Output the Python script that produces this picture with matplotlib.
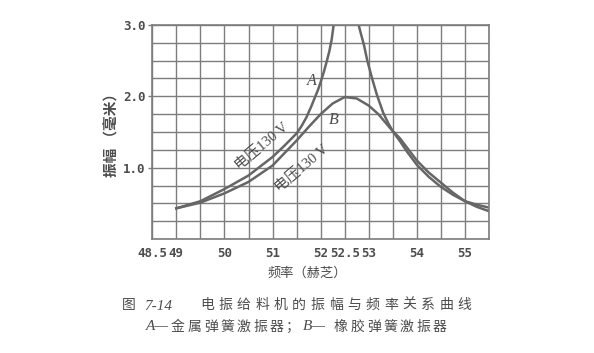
import numpy as np
import matplotlib
matplotlib.use("Agg")
import matplotlib.pyplot as plt

# curve A (metal spring) - two branches, goes off the top near resonance
freq_a_left = [49.0, 49.5, 50.0, 50.5, 51.0, 51.25, 51.5, 51.6, 51.7, 51.8, 51.89, 51.95,
               52.0, 52.07, 52.13, 52.18, 52.23, 52.27]
amp_a_left = [0.43, 0.53, 0.70, 0.89, 1.15, 1.31, 1.48, 1.58, 1.70, 1.85, 2.0, 2.1,
              2.2, 2.35, 2.5, 2.63, 2.8, 3.0]
freq_a_right = [52.79, 52.84, 52.9, 52.97, 53.07, 53.17, 53.3, 53.4, 53.5, 53.65, 53.8,
                54.0, 54.25, 54.5, 54.75, 55.0, 55.25, 55.5]
amp_a_right = [3.0, 2.87, 2.72, 2.5, 2.25, 2.02, 1.77, 1.63, 1.51, 1.37, 1.22,
               1.04, 0.87, 0.73, 0.62, 0.53, 0.48, 0.44]

# curve B (rubber spring)
freq_b = [49.0, 49.5, 50.0, 50.5, 51.0, 51.5, 51.75, 52.0, 52.25, 52.5, 52.75, 53.0, 53.2,
          53.45, 53.65, 54.0, 54.25, 54.5, 54.75, 55.0, 55.25, 55.5]
amp_b = [0.43, 0.51, 0.64, 0.80, 1.03, 1.38, 1.57, 1.75, 1.90, 1.99, 1.97, 1.87, 1.75,
         1.55, 1.41, 1.10, 0.93, 0.79, 0.65, 0.53, 0.45, 0.39]

x_ticks = [48.5, 49, 50, 51, 52, 52.5, 53, 54, 55]
x_labels = ["48.5", "49", "50", "51", "52", "52.5", "53", "54", "55"]
y_ticks = [1.0, 2.0, 3.0]
y_labels = ["1.0", "2.0", "3.0"]

line_c = "#666666"
grid_c = "#7d7d7d"
text_c = "#4d4d4d"
cjk = ["Noto Sans CJK SC", "DejaVu Sans"]
serif = ["Liberation Serif", "Noto Sans CJK SC"]

fig = plt.figure(figsize=(5.94, 3.53), dpi=100)
ax = fig.add_axes([152.3 / 594, 1 - 239 / 353, (489 - 152.3) / 594, (239 - 25) / 353])

ax.set_xlim(48.5, 55.5)
ax.set_ylim(0, 3.0)
ax.set_xticks(np.arange(48.5, 55.51, 0.5), minor=True)
ax.set_yticks(np.arange(0, 3.01, 0.25), minor=True)
ax.set_xticks(x_ticks)
ax.set_xticklabels(x_labels)
ax.set_yticks(y_ticks)
ax.set_yticklabels(y_labels)
ax.grid(which="both", color=grid_c, lw=1.0)
ax.tick_params(which="minor", length=0)
ax.tick_params(axis="x", which="major", length=0, pad=6)
ax.tick_params(axis="y", which="major", length=3, width=1, color=grid_c, pad=2)
for lab in ax.get_xticklabels() + ax.get_yticklabels():
    lab.set_family("DejaVu Sans Mono")
    lab.set_weight("bold")
    lab.set_fontsize(9)
    lab.set_color(text_c)
for s in ax.spines.values():
    s.set_color(grid_c)
    s.set_linewidth(1.2)

ax.plot(freq_a_left, amp_a_left, color=line_c, lw=1.8)
ax.plot(freq_a_right, amp_a_right, color=line_c, lw=1.8)
ax.plot(freq_b, amp_b, color=line_c, lw=1.8)

ax.text(51.82, 2.22, "A", family="Liberation Serif", style="italic", fontsize=11.5,
        color=text_c, ha="center", va="center")
ax.text(52.27, 1.67, "B", family="Liberation Serif", style="italic", fontsize=11.5,
        color=text_c, ha="center", va="center")
ax.text(50.76, 1.31, "电压130 V", family=serif, fontsize=10.5, color=text_c,
        rotation=40, ha="center", va="center", rotation_mode="anchor")
ax.text(51.6, 1.0, "电压130 V", family=serif, fontsize=10.5, color=text_c,
        rotation=40, ha="center", va="center", rotation_mode="anchor")

fig.text(112 / 594, 1 - 132 / 353, "振幅 （毫米）", family=cjk, fontsize=10.5, weight="bold",
         color=text_c, rotation=90, ha="center", va="center")
fig.text(307 / 594, 1 - 273 / 353, "频率（赫芝）", family=cjk, fontsize=9.5,
         color=text_c, ha="center", va="center")


def spaced(x0, y, s, step, size=10):
    # place characters one by one, figure pixel coords
    x = x0
    for ch in s:
        fig.text(x / 594, 1 - y / 353, ch, family=cjk, fontsize=size, color=text_c,
                 ha="left", va="center")
        x += step
    return x


fig.text(122 / 594, 1 - 305 / 353, "图", family=cjk, fontsize=10, color=text_c,
         ha="left", va="center")
fig.text(144 / 594, 1 - 306 / 353, "7-14", family="Liberation Serif", style="italic",
         fontsize=11, color=text_c, ha="left", va="center")
spaced(200, 305, "电振给料机的振幅与频率关系曲线", 18.4)

fig.text(146 / 594, 1 - 327 / 353, "A—", family="Liberation Serif", style="italic",
         fontsize=11, color=text_c, ha="left", va="center")
spaced(171, 327, "金属弹簧激振器；", 16.4)
fig.text(303 / 594, 1 - 327 / 353, "B—", family="Liberation Serif", style="italic",
         fontsize=11, color=text_c, ha="left", va="center")
spaced(334, 327, "橡胶弹簧激振器", 16.4)

fig.savefig("out.png", dpi=100)
